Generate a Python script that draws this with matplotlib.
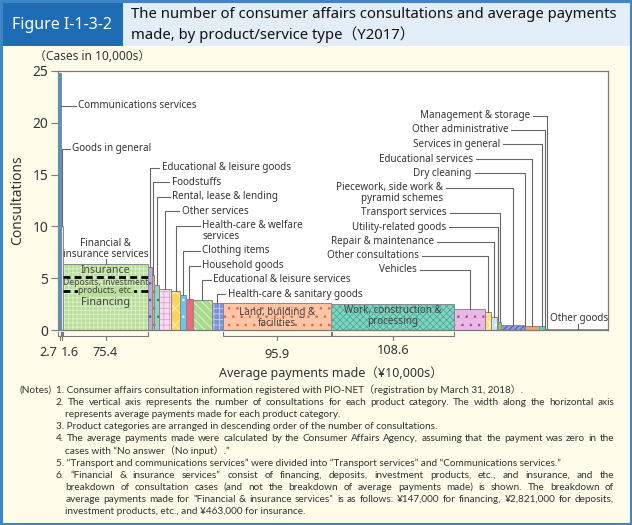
import matplotlib
matplotlib.use('Agg')
import matplotlib.pyplot as plt
from matplotlib import font_manager
from matplotlib.patches import Rectangle
import numpy as np

W, H = 632, 525

# ---------------- data ----------------
categories = ["Communications services", "Goods in general", "Financial & insurance services",
              "Educational & leisure goods", "Foodstuffs", "Rental, lease & lending", "Other services",
              "Health-care & welfare\nservices", "Clothing items", "Household goods",
              "Educational & leisure services", "Health-care & sanitary goods",
              "Land, building &\nfacilities", "Work, construction &\nprocessing", "Vehicles",
              "Other consultations", "Repair & maintenance", "Utility-related goods",
              "Transport services", "Piecework, side work &\npyramid schemes", "Dry cleaning",
              "Educational services", "Services in general", "Other administrative",
              "Management & storage", "Other goods"]
consultations = [24.8, 10.0, 6.34, 6.05, 5.34, 4.31, 3.99, 3.73, 3.35, 3.02, 2.90, 2.62, 2.57,
                 2.50, 2.06, 1.71, 1.27, 0.95, 0.77, 0.46, 0.42, 0.40, 0.38, 0.20, 0.13, 0.06]
avg_payments = [2.7, 1.6, 75.4, 3.5, 1.5, 4.8, 10.3, 8.3, 4.7, 6.2, 16.8, 9.9, 95.9, 108.6,
                27.2, 4.9, 6.0, 0.9, 2.2, 20.6, 0.5, 12.6, 4.9, 0.4, 3.4, 52.2]
fin_parts = ["Financing", "Deposits, investment\nproducts, etc.", "Insurance"]
fin_values = [3.80, 1.35, 1.19]
labelled_bars = [0, 1, 2, 12, 13]
y_ticks = [0, 5, 10, 15, 20, 25]

# ---------------- styles ----------------
# (facecolor, hatch, hatchcolor)
styles = [
    ('#3D9BD8', None, None),
    ('#FBE4E4', '...', '#E05050'),
    ('#B9DF9C', '++++', '#DDF0CC'),
    ('#B4AEE0', '..', '#4050B0'),
    ('#F2A470', '..', '#C06030'),
    ('#8FD4C4', '..', '#208070'),
    ('#F8DDF0', '+++', '#E8A0D0'),
    ('#FFD45A', 'xx', '#FFF4C0'),
    ('#6EC3EE', '..', '#E0F4FF'),
    ('#EE6A7A', None, None),
    ('#A9DA8E', '\\\\\\\\', '#E8F6DC'),
    ('#7F8FD8', '+++', '#C8D0F0'),
    ('#FCC6A6', '..', '#E8603A'),
    ('#7FD6C0', 'xxxxx', '#50A898'),
    ('#EAB8E6', '..', '#B040A8'),
    ('#FFDE7A', 'xx', '#FFFFFF'),
    ('#C6E4FA', '..', '#FFFFFF'),
    ('#D8EEF8', None, None),
    ('#8ACB6A', None, None),
    ('#8C98DC', '//////', '#4050B0'),
    ('#F0F0F0', None, None),
    ('#F5A070', '..', '#E05028'),
    ('#6CCAB8', '..', '#FFFFFF'),
    ('#DDDDDD', None, None),
    ('#F8D860', None, None),
    ('#FFFFFF', None, None),
]

main_font = ['Noto Sans', 'Noto Sans CJK JP', 'DejaVu Sans']
plt.rcParams['font.family'] = main_font
plt.rcParams['hatch.linewidth'] = 0.6

TXT = '#333333'
GRAY = '#7a7a7a'
CREAM = '#FFFDEA'

fig = plt.figure(figsize=(W / 100, H / 100), dpi=100)
fig.patch.set_facecolor(CREAM)

def F(px, py):
    return (px / W, 1 - py / H)

# header
fig.add_artist(Rectangle(F(0, 46), 123 / W, 46 / H, transform=fig.transFigure, facecolor='#1E6DB4', edgecolor='none'))
fig.add_artist(Rectangle(F(123, 46), (W - 123) / W, 46 / H, transform=fig.transFigure, facecolor='#E2EDF8', edgecolor='none'))
fig.add_artist(Rectangle((0.0015, 0.002), 0.997, 0.996, transform=fig.transFigure, facecolor='none', edgecolor='#3F86C8', lw=2.2))
fig.text(*F(62, 25), 'Figure I-1-3-2', color='white', fontsize=11.5, fontweight='bold', ha='center', va='center')
fig.text(*F(131, 15), 'The number of consumer affairs consultations and average payments', color='#111111', fontsize=10.7, ha='left', va='center')
fig.text(*F(131, 35), 'made, by product/service type（Y2017）', color='#111111', fontsize=10.7, ha='left', va='center')

# axes
ax = fig.add_axes([58 / W, 1 - 330 / H, 550 / W, 259 / H])
ax.set_facecolor('white')
lefts = np.concatenate([[0], np.cumsum(avg_payments)[:-1]])
total = float(np.sum(avg_payments))
ax.set_xlim(0, total)
ax.set_ylim(0, 25)
for s in ax.spines.values():
    s.set_color(GRAY)
    s.set_linewidth(0.9)
ax.set_xticks([])
ax.set_yticks(y_ticks)
ax.set_yticklabels([str(v) for v in y_ticks])
ax.tick_params(axis='y', length=5, color=GRAY, labelsize=10, labelcolor=TXT, pad=2)
ax.set_ylabel('Consultations', fontsize=10, color=TXT)
ax.yaxis.set_label_coords(-33 / 550, 0.5)
fig.text(*F(34, 56), '（Cases in 10,000s）', fontsize=8.6, color=TXT, ha='left', va='center')

EDGE = '#8a8a8a'

def draw_bar(x, w, b, h, st):
    fc, hatch, hc = st
    ax.bar(x, h, width=w, bottom=b, align='edge', color=fc, hatch=hatch,
           edgecolor=hc if hc else fc, linewidth=0, zorder=2)
    ax.bar(x, h, width=w, bottom=b, align='edge', color='none', edgecolor=EDGE, linewidth=0.7, zorder=3)

for i, (x, w, h) in enumerate(zip(lefts, avg_payments, consultations)):
    if i == 2:
        bottoms = np.concatenate([[0], np.cumsum(fin_values)[:-1]])
        for b, v in zip(bottoms, fin_values):
            ax.bar(x, v, width=w, bottom=b, align='edge', color=styles[i][0], hatch=styles[i][1],
                   edgecolor=styles[i][2], linewidth=0, zorder=2)
        ax.bar(x, h, width=w, align='edge', color='none', edgecolor=EDGE, linewidth=0.7, zorder=3)
        for yb in np.cumsum(fin_values)[:-1]:
            ax.hlines(yb, x + 0.5, x + w - 0.5, colors='black', linestyles=(0, (2.5, 1.5)), lw=2, zorder=4)
    else:
        draw_bar(x, w, 0, h, styles[i])

inv = ax.transData.inverted()
def D(px, py):
    return inv.transform((px, H - py))
def xp(xd):
    return ax.transData.transform((xd, 0))[0]
def yp(yd):
    return H - ax.transData.transform((0, yd))[1]

LC = '#666666'
def line_px(pts, lw=0.8, color=LC, **kw):
    arr = np.array([D(*p) for p in pts])
    ax.plot(arr[:, 0], arr[:, 1], color=color, lw=lw, clip_on=False, zorder=5, **kw)

centers = lefts + np.array(avg_payments) / 2
LFS = 7.1
LH = 11

# left labels (communications, goods in general)
xr0 = xp(lefts[0] + avg_payments[0])
line_px([(xr0, 106), (76, 106)])
fig.text(*F(78, 106), categories[0], fontsize=LFS, color=TXT, ha='left', va='center')
xc1 = xp(centers[1])
line_px([(xc1, yp(consultations[1])), (xc1, 149), (70, 149)])
fig.text(*F(72, 149), categories[1], fontsize=LFS, color=TXT, ha='left', va='center')

# labels to the right of their leader
right_layout = {3: (161.7, 167.7), 4: (171.7, 182.3), 5: (172.5, 196.7), 6: (181.7, 211),
                7: (202.3, 225.7), 8: (202.3, 251), 9: (202.3, 265.7), 10: (213.3, 280), 11: (227.7, 294.3)}
for i, (tx, ty) in right_layout.items():
    xc = xp(centers[i])
    line_px([(xc, yp(consultations[i])), (xc, ty), (tx - 2.5, ty)])
    for k, ln in enumerate(categories[i].split('\n')):
        fig.text(*F(tx, ty + k * LH), ln, fontsize=LFS, color=TXT, ha='left', va='center')

# labels to the left of their leader
left_layout = {14: (416.7, 270), 15: (419, 256), 16: (434, 241.7), 17: (446, 227.3), 18: (446.7, 212.7),
               19: (443, 188), 20: (471.7, 173.3), 21: (472.7, 159), 22: (500, 144.3), 23: (508.3, 130),
               24: (530, 115.7)}
for i, (tx, ty) in left_layout.items():
    xc = xp(centers[i])
    line_px([(tx + 3, ty), (xc, ty), (xc, yp(consultations[i]))])
    for k, ln in enumerate(categories[i].split('\n')):
        fig.text(*F(tx, ty + k * LH), ln, fontsize=LFS, color=TXT, ha='right', va='center')

# other goods
xc = xp(centers[25])
line_px([(xc, 324), (xc, yp(consultations[25]))])
fig.text(*F(xc + 1, 318), categories[25], fontsize=LFS, color=TXT, ha='center', va='center')

# financial label
xcf = xp(centers[2])
fig.text(*F(xcf, 243.3), 'Financial &', fontsize=LFS, color=TXT, ha='center', va='center')
fig.text(*F(xcf, 254.3), 'insurance services', fontsize=LFS, color=TXT, ha='center', va='center')
line_px([(xcf, 259), (xcf, yp(consultations[2]))])
fig.text(*F(xcf, 270.7), fin_parts[2], fontsize=7.6, color='#444444', ha='center', va='center', zorder=6)
fig.text(*F(xcf, 282.7), fin_parts[1].split('\n')[0], fontsize=6.2, color='#444444', ha='center', va='center', zorder=6)
fig.text(*F(xcf, 290.7), fin_parts[1].split('\n')[1], fontsize=6.2, color='#444444', ha='center', va='center', zorder=6,
         bbox=dict(boxstyle='square,pad=0.05', fc=styles[2][0], ec='none'))
fig.text(*F(xcf, 302.7), fin_parts[0], fontsize=7.8, color='#444444', ha='center', va='center', zorder=6)

# labels inside land / work bars
for i, dy0 in ((12, 312.3), (13, 310.7)):
    xc = xp(centers[i])
    for k, ln in enumerate(categories[i].split('\n')):
        fig.text(*F(xc, dy0 + k * LH), ln, fontsize=LFS, color='#444444', ha='center', va='center', zorder=6)

# brackets under the x axis and their value labels
label_px = {0: (48, 352), 1: (70, 352), 2: (None, 352), 12: (None, 354), 13: (None, 351)}
for i in labelled_bars:
    x0 = xp(lefts[i]) + 0.4
    x1 = xp(lefts[i] + avg_payments[i]) - 0.4
    xm = (x0 + x1) / 2
    line_px([(x0, 331.5), (x0, 336), (x1, 336), (x1, 331.5)], lw=0.8, color=GRAY)
    line_px([(xm, 336), (xm, 339.5)], lw=0.8, color=GRAY)
    lx, ly = label_px[i]
    fig.text(*F(lx if lx is not None else xm, ly), f'{avg_payments[i]}', fontsize=9.2, color=TXT, ha='center', va='center')

fig.text(*F(331, 373), 'Average payments made（¥10,000s）', fontsize=9, color=TXT, ha='center', va='center')

# notes
renderer = fig.canvas.get_renderer()

notes = [
    (19, '(Notes)', False),
    (55.6, '1. Consumer affairs consultation information registered with PIO-NET（registration by March 31, 2018）.', False),
    (55.6, '2. The vertical axis represents the number of consultations for each product category. The width along the horizontal axis', True),
    (65.3, 'represents average payments made for each product category.', False),
    (55.6, '3. Product categories are arranged in descending order of the number of consultations.', False),
    (55.6, '4. The average payments made were calculated by the Consumer Affairs Agency, assuming that the payment was zero in the', True),
    (65.3, 'cases with “No answer（No input）.”', False),
    (55.6, '5. “Transport and communications services” were divided into “Transport services” and “Communications services.”', False),
    (55.6, '6. “Financial & insurance services” consist of financing, deposits, investment products, etc., and insurance, and the', True),
    (65.3, 'breakdown of consultation cases (and not the breakdown of average payments made) is shown. The breakdown of', True),
    (65.3, 'average payments made for "Financial & insurance services" is as follows: ¥147,000 for financing, ¥2,821,000 for deposits,', True),
    (65.3, 'investment products, etc., and ¥463,000 for insurance.', False),
]
RIGHT = 614

installed = {f.name for f in font_manager.fontManager.ttflist}

def fit_size(fam, ref_fs=8.0):
    ratios = []
    for x0, txt, just in notes:
        if just:
            t = fig.text(0, 0, txt, fontsize=ref_fs, family=fam)
            ratios.append((RIGHT - x0) / t.get_window_extent(renderer).width)
            t.remove()
    return ref_fs * min(ratios) * 0.985

best = None
for cand in ['Lato', 'Roboto', 'Liberation Sans', 'Noto Sans']:
    if cand in installed:
        fam = [cand, 'Noto Sans CJK JP', 'DejaVu Sans']
        s = fit_size(fam)
        if best is None or s > best[1] + 0.05:
            best = (fam, s)
note_font, NFS = best

def note_line(x0, y, text, x1=None):
    if x1 is None:
        fig.text(*F(x0, y), text, fontsize=NFS, family=note_font, color=TXT, ha='left', va='center')
        return
    words = text.split(' ')
    ts, ws = [], []
    for wd in words:
        t = fig.text(0, 0, wd, fontsize=NFS, family=note_font, color=TXT, ha='left', va='center')
        ts.append(t)
        ws.append(t.get_window_extent(renderer).width)
    gap = (x1 - x0 - sum(ws)) / max(len(words) - 1, 1)
    x = x0
    for t, w in zip(ts, ws):
        t.set_position(F(x, y))
        x += w + gap

row = 0
for k, (x0, txt, just) in enumerate(notes):
    y = 390 + 12.15 * row
    note_line(x0, y, txt, RIGHT if just else None)
    if k != 0:
        row += 1

fig.savefig('out.png', dpi=100, facecolor=fig.get_facecolor())
